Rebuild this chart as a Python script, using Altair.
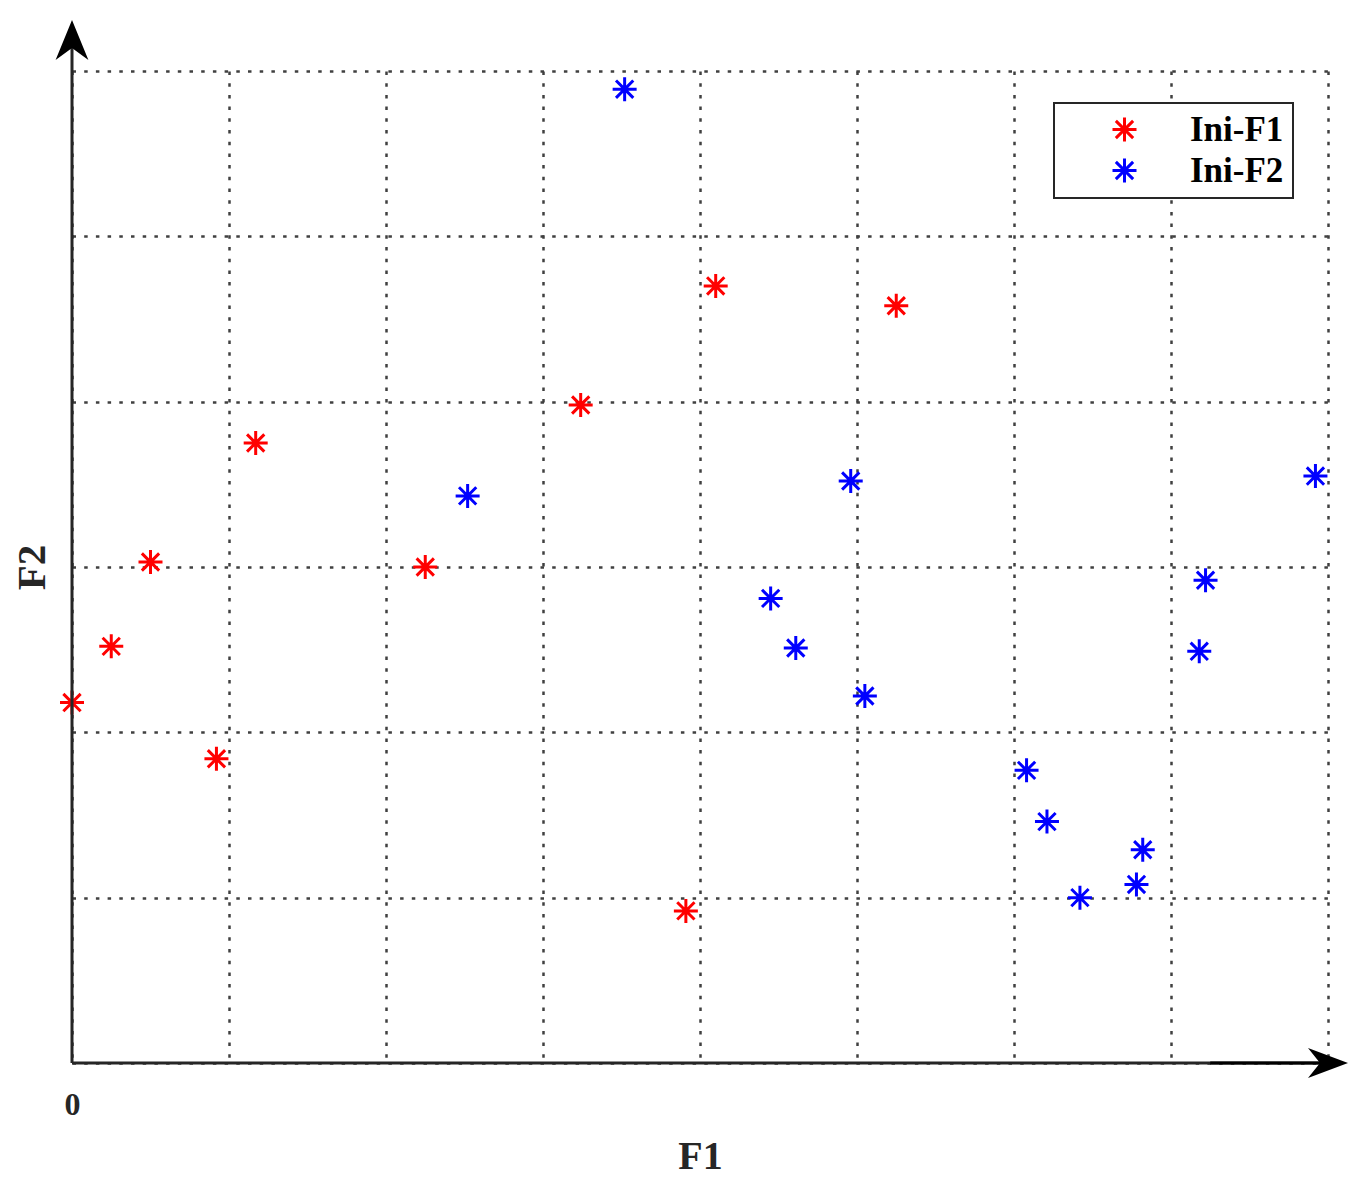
import altair as alt
import pandas as pd

# ---- data ----
series_names = ["Ini-F1", "Ini-F2"]
series_colors = ["#FF0000", "#0000FF"]

f1_x = [0.00, 0.25, 0.50, 0.92, 1.17, 2.25, 3.24, 3.91, 4.10, 5.25]
f1_y = [2.18, 2.52, 3.03, 1.84, 3.75, 3.00, 3.98, 0.92, 4.70, 4.58]

f2_x = [3.52, 2.52, 4.96, 4.45, 4.61, 5.05, 6.08, 6.21, 6.42, 6.78, 6.82, 7.18, 7.22, 7.92]
f2_y = [5.89, 3.43, 3.52, 2.81, 2.51, 2.22, 1.77, 1.46, 1.00, 1.08, 1.29, 2.49, 2.92, 3.55]

x_ticks = [0, 1, 2, 3, 4, 5, 6, 7, 8]
y_ticks = [0, 1, 2, 3, 4, 5, 6]

df = pd.DataFrame(
    {
        "F1": f1_x + f2_x,
        "F2": f1_y + f2_y,
        "series": [series_names[0]] * len(f1_x) + [series_names[1]] * len(f2_x),
    }
)

FONT = "Liberation Serif"
STAR = "M-1,0L1,0M0,-1L0,1M-0.72,-0.72L0.72,0.72M-0.72,0.72L0.72,-0.72"
ARROW_UP = "M0,-1L0.82,1L0,0.4L-0.82,1Z"
ARROW_RIGHT = "M1,0L-1,0.75L-0.4,0L-1,-0.75Z"

xscale = alt.Scale(domain=[0, 8], nice=False, zero=False)
yscale = alt.Scale(domain=[0, 6], nice=False, zero=False)

grid_common = dict(
    grid=True,
    gridColor="#404040",
    gridDash=[3.5, 8.2],
    gridWidth=2.5,
    domain=False,
    ticks=False,
)

xaxis = alt.Axis(
    values=x_ticks,
    labelExpr="datum.value == 0 ? '0' : ''",
    labelFlush=False,
    labelFont=FONT,
    labelFontWeight="bold",
    labelFontSize=32,
    labelColor="#262626",
    labelPadding=26,
    title="F1",
    titleFont=FONT,
    titleFontSize=40,
    titleFontWeight="bold",
    titleColor="#262626",
    titlePadding=16,
    **grid_common,
)
yaxis = alt.Axis(
    values=y_ticks,
    labels=False,
    title="F2",
    titleFont=FONT,
    titleFontSize=41,
    titleFontWeight="bold",
    titleColor="#262626",
    titlePadding=19,
    **grid_common,
)

points = (
    alt.Chart(df)
    .mark_point(shape=STAR, size=576, strokeWidth=3, filled=False, opacity=1)
    .encode(
        x=alt.X("F1:Q", scale=xscale, axis=xaxis),
        y=alt.Y("F2:Q", scale=yscale, axis=yaxis),
        color=alt.Color(
            "series:N",
            scale=alt.Scale(domain=series_names, range=series_colors),
            legend=alt.Legend(
                title=None,
                orient="none",
                legendX=982,
                legendY=32,
                padding=9,
                symbolOffset=44,
                labelOffset=48,
                rowPadding=4,
                symbolType=STAR,
                symbolSize=576,
                symbolStrokeWidth=3,
                labelFont=FONT,
                labelFontSize=35,
                labelFontWeight="bold",
                labelColor="black",
                strokeColor="#262626",
                fillColor="white",
            ),
        ),
    )
)

base = alt.Chart(pd.DataFrame({"a": [0]}))

y_line = base.mark_rule(color="#262626", strokeWidth=3).encode(
    x=alt.XDatum(0, scale=xscale, axis=xaxis),
    y=alt.YDatum(0, scale=yscale, axis=yaxis),
    y2=alt.datum(6.19),
)
x_line = base.mark_rule(color="#262626", strokeWidth=3).encode(
    x=alt.XDatum(0, scale=xscale, axis=xaxis),
    x2=alt.datum(8.0),
    y=alt.YDatum(0, scale=yscale, axis=yaxis),
)
x_line_dark = base.mark_rule(color="black", strokeWidth=3).encode(
    x=alt.XDatum(7.25, scale=xscale, axis=xaxis),
    x2=alt.datum(8.0),
    y=alt.YDatum(0, scale=yscale, axis=yaxis),
)
arrow_up = base.mark_point(
    shape=ARROW_UP, size=1600, filled=True, color="black", opacity=1, strokeWidth=0
).encode(
    x=alt.XDatum(0, scale=xscale, axis=xaxis),
    y=alt.YDatum(6.188, scale=yscale, axis=yaxis),
)
arrow_right = base.mark_point(
    shape=ARROW_RIGHT, size=1600, filled=True, color="black", opacity=1, strokeWidth=0
).encode(
    x=alt.XDatum(8.0, scale=xscale, axis=xaxis),
    y=alt.YDatum(0, scale=yscale, axis=yaxis),
)

chart = (
    alt.layer(points, y_line, x_line, x_line_dark, arrow_up, arrow_right)
    .properties(
        width=1256,
        height=992,
        autosize=alt.AutoSizeParams(type="none"),
        padding={"left": 64, "top": 63, "right": 30, "bottom": 120},
        background="white",
    )
    .configure_view(stroke=None)
    .configure_legend(strokeWidth=2, cornerRadius=0)
)

chart.save("out.html", embed_options={"renderer": "svg", "actions": False})
